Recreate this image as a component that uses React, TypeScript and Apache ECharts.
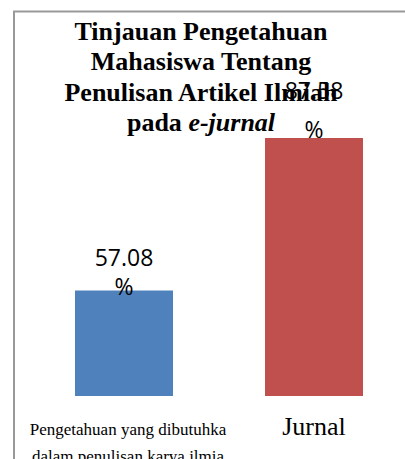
import React, { useEffect, useRef } from "react";
import * as echarts from "echarts";

const categories = [
  "Pengetahuan yang dibutuhkan\ndalam penulisan karya ilmiah",
  "Jurnal",
];
const values = [57.08, 87.58];
const barColors = ["#4F81BD", "#C0504D"];
const titleLines = [
  "Tinjauan Pengetahuan",
  "Mahasiswa Tentang",
  "Penulisan Artikel Ilmiah",
];
const titleLastPlain = "pada ";
const titleLastItalic = "e-jurnal";

export default function App() {
  const ref = useRef<HTMLDivElement>(null);
  useEffect(() => {
    if (!ref.current) return;
    const chart = echarts.init(ref.current, undefined, { renderer: "svg" });
    const titleText =
      titleLines.map((l) => `{b|${l}}`).join("\n") +
      `\n{b|${titleLastPlain}}{i|${titleLastItalic}}`;
    const labelLineHeights = [29, 39];
    chart.setOption({
      animation: false,
      backgroundColor: "#ffffff",
      title: {
        text: titleText,
        left: 196,
        top: 11,
        textAlign: "center",
        textStyle: {
          fontFamily: "Liberation Serif",
          fontWeight: "bold",
          fontSize: 26,
          color: "#000",
          rich: {
            b: {
              fontFamily: "Liberation Serif",
              fontWeight: "bold",
              fontSize: 26,
              lineHeight: 30.5,
              color: "#000",
            },
            i: {
              fontFamily: "Liberation Serif",
              fontWeight: "bold",
              fontStyle: "italic",
              fontSize: 26,
              lineHeight: 30.5,
              color: "#000",
            },
          },
        },
      },
      graphic: [
        {
          type: "rect",
          shape: { x: 14, y: 11.5, width: 600, height: 600 },
          style: { fill: "none", stroke: "#999", lineWidth: 2 },
          silent: true,
          z: 0,
        },
      ],
      grid: {
        left: 29,
        top: 76,
        width: 380,
        height: 320,
        containLabel: false,
        outerBoundsMode: "none",
      },
      xAxis: {
        type: "category",
        data: categories,
        axisLine: { show: false },
        axisTick: { show: false },
        axisLabel: {
          interval: 0,
          margin: 20,
          formatter: (v: string, i: number) => (i === 0 ? v : `{j|${v}}`),
          width: 200,
          padding: [0, 0, 0, 8],
          overflow: "truncate",
          ellipsis: "",
          fontFamily: "Liberation Serif",
          fontSize: 17,
          lineHeight: 27,
          color: "#000",
          rich: {
            j: {
              fontFamily: "Liberation Serif",
              fontSize: 26,
              lineHeight: 20,
              padding: [0, 8, 0, 0],
              color: "#000",
            },
          },
        },
      },
      yAxis: {
        type: "value",
        min: 36,
        max: 100,
        show: false,
        splitLine: { show: false },
      },
      series: [
        {
          type: "bar",
          barWidth: 98,
          data: values.map((v, i) => ({
            value: v,
            itemStyle: { color: barColors[i] },
            label: { lineHeight: labelLineHeights[i] },
          })),
          label: {
            show: true,
            position: "top",
            distance: 0,
            offset: [0, 10],
            formatter: (p: any) => `${p.value.toFixed(2)}\n%`,
            fontFamily: "Open Sans",
            fontSize: 23,
            color: "#000",
          },
        },
      ],
    });
    return () => chart.dispose();
  }, []);
  return (
    <div
      ref={ref}
      style={{ position: "fixed", left: 0, top: 0, width: 405, height: 459 }}
    />
  );
}
